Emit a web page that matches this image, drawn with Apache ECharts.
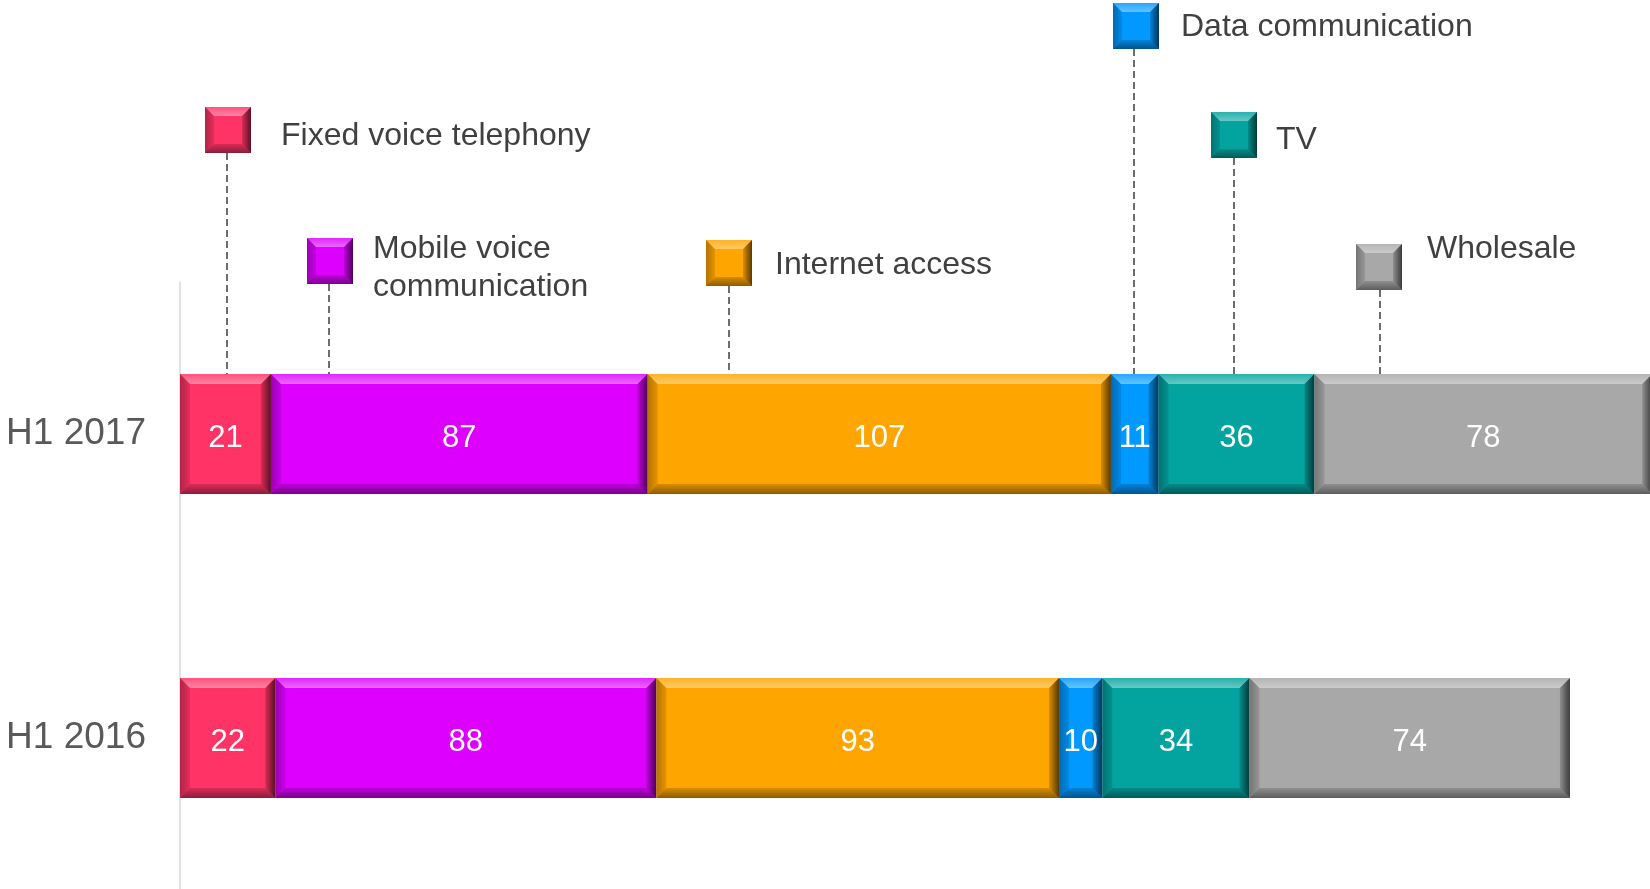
<!DOCTYPE html>
<html><head><meta charset="utf-8">
<script src="https://cdn.jsdelivr.net/npm/echarts@6/dist/echarts.min.js"></script>
<style>html,body{margin:0;padding:0;background:#fff}#c{width:1650px;height:889px}</style>
</head><body><div id="c"></div>
<script>
// ---------- data ----------
const categories = ['H1 2016', 'H1 2017'];
const seriesNames = ['Fixed voice telephony', 'Mobile voice communication', 'Internet access', 'Data communication', 'TV', 'Wholesale'];
const fixedVoice = [22, 21];
const mobileVoice = [88, 87];
const internetAccess = [93, 107];
const dataComm = [10, 11];
const tv = [34, 36];
const wholesale = [74, 78];
const allValues = [fixedVoice, mobileVoice, internetAccess, dataComm, tv, wholesale];

// ---------- style ----------
const FONT = '"Liberation Sans", Arial, sans-serif';
const colors = ['#FF3366', '#DD00FF', '#FFA500', '#0099FF', '#03A3A0', '#A8A8A8'];
const BAR_RATIO = 120 / 304;

function bevel(x, y, w, h, b, color) {
  const g = (x1, y1, x2, y2, c0, c1) => ({ type: 'linear', x: x1, y: y1, x2: x2, y2: y2, colorStops: [{ offset: 0, color: c0 }, { offset: 1, color: c1 }] });
  return [
    { type: 'rect', shape: { x, y, width: w, height: h }, style: { fill: color } },
    { type: 'polygon', shape: { points: [[x, y], [x + w, y], [x + w - b, y + b], [x + b, y + b]] },
      style: { fill: g(0, 0, 0, 1, 'rgba(255,255,255,0.15)', 'rgba(255,255,255,0.4)') } },
    { type: 'polygon', shape: { points: [[x, y + h], [x + w, y + h], [x + w - b, y + h - b], [x + b, y + h - b]] },
      style: { fill: g(0, 0, 0, 1, 'rgba(0,0,0,0.15)', 'rgba(0,0,0,0.45)') } },
    { type: 'polygon', shape: { points: [[x, y], [x + b, y + b], [x + b, y + h - b], [x, y + h]] },
      style: { fill: g(0, 0, 1, 0, 'rgba(0,0,0,0.3)', 'rgba(0,0,0,0.1)') } },
    { type: 'polygon', shape: { points: [[x + w, y], [x + w - b, y + b], [x + w - b, y + h - b], [x + w, y + h]] },
      style: { fill: g(0, 0, 1, 0, 'rgba(0,0,0,0.15)', 'rgba(0,0,0,0.65)') } }
  ];
}

// build stacked segments from data
const series = allValues.map((vals, si) => {
  const data = vals.map((v, ci) => {
    let start = 0;
    for (let k = 0; k < si; k++) start += allValues[k][ci];
    return [ci, start, start + v, v];
  });
  return {
    type: 'custom', name: seriesNames[si], data: data,
    encode: { x: [1, 2], y: 0 },
    renderItem: function (params, api) {
      const ci = api.value(0), s = api.value(1), e = api.value(2), v = api.value(3);
      const p0 = api.coord([s, ci]), p1 = api.coord([e, ci]);
      const h = api.size([0, 1])[1] * BAR_RATIO;
      const x = p0[0], w = p1[0] - p0[0], y = p0[1] - h / 2;
      const b = Math.min(10, w / 3);
      const ch = bevel(x, y, w, h, b, colors[si]);
      ch.push({ type: 'text', style: { text: String(v), x: x + w / 2, y: p0[1] + 4, align: 'center', verticalAlign: 'middle', fill: '#fff', font: '31px ' + FONT } });
      return { type: 'group', children: ch };
    }
  };
});

// annotations (legend markers with leader lines)
const annot = [
  { mx: 205, my: 107, lx: 227, tx: 281, ty: 136, text: 'Fixed voice telephony' },
  { mx: 307, my: 238, lx: 329, tx: 373, ty: 268, text: 'Mobile voice\ncommunication' },
  { mx: 706, my: 240, lx: 729, tx: 775, ty: 265, text: 'Internet access' },
  { mx: 1113, my: 3, lx: 1134, tx: 1181, ty: 27, text: 'Data communication' },
  { mx: 1211, my: 112, lx: 1234, tx: 1276, ty: 140, text: 'TV' },
  { mx: 1356, my: 244, lx: 1380, tx: 1427, ty: 249, text: 'Wholesale' }
];
const graphics = [];
annot.forEach((a, i) => {
  graphics.push({ type: 'line', shape: { x1: a.lx, y1: a.my + 46, x2: a.lx, y2: 374 }, style: { stroke: '#595959', lineWidth: 1.75, lineDash: [7, 4] }, z: 1 });
  graphics.push({ type: 'group', children: bevel(a.mx, a.my, 46, 46, 9, colors[i]), z: 2 });
  graphics.push({ type: 'text', style: { text: a.text, x: a.tx, y: a.ty, align: 'left', verticalAlign: 'middle', fill: '#404040', font: '32px ' + FONT, lineHeight: 38 }, z: 2 });
});

const chart = echarts.init(document.getElementById('c'));
chart.setOption({
  animation: false,
  backgroundColor: '#fff',
  grid: { left: 180, top: 282, height: 608, width: 350 * 4.33, outerBoundsMode: 'none', containLabel: false },
  xAxis: { type: 'value', min: 0, max: 350, show: false, splitLine: { show: false } },
  yAxis: {
    type: 'category', data: categories,
    axisLine: { show: true, lineStyle: { color: '#d9d9d9', width: 1.5 } },
    axisTick: { show: false },
    axisLabel: { color: '#595959', fontSize: 37, fontFamily: FONT, margin: 34 }
  },
  graphic: graphics,
  series: series
});
</script></body></html>
